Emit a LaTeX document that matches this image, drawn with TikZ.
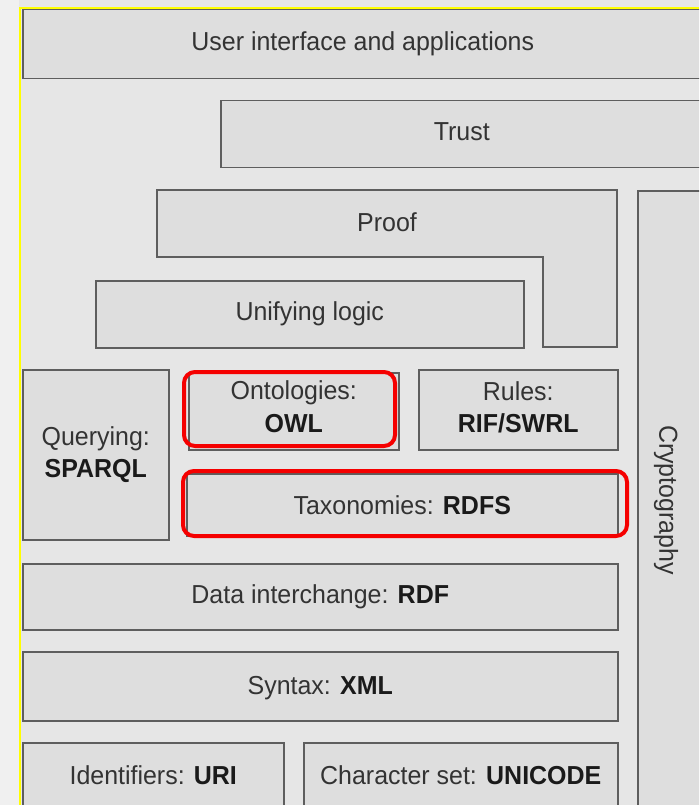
\documentclass[tikz,border=0pt]{standalone}
\usepackage{fontspec}
\setmainfont{Liberation Sans}[FakeStretch=0.96]
\definecolor{bgcol}{HTML}{E6E6E6}
\definecolor{boxfill}{HTML}{DEDEDE}
\definecolor{boxline}{HTML}{5E5E5E}
\definecolor{txt}{HTML}{333333}
\definecolor{boldtxt}{HTML}{1A1A1A}
\definecolor{hlred}{HTML}{F50000}
\definecolor{selyellow}{HTML}{FFFF00}
\newcommand\lblfont{\fontsize{26}{32.5}\selectfont}
\newcommand\kw[1]{\textbf{\color{boldtxt}#1}}
\begin{document}
\begin{tikzpicture}[x=1pt,y=-1pt,
  box/.style={draw=boxline, line width=1.5pt, fill=boxfill, inner sep=0pt,
    anchor=north west, text=txt, align=center, font=\lblfont},
  plainbox/.style={draw=boxline, line width=1.5pt, fill=boxfill},
  hl/.style={draw=hlred, line width=4pt, rounded corners=11pt},
  lbl/.style={text=txt, font=\lblfont, align=center, inner sep=0pt}]
\useasboundingbox (0,0) rectangle (699,805);
\fill[bgcol] (0,0) rectangle (699,805);
\fill[bgcol!60!white] (0,0) rectangle (19,805);
\begin{scope}
\clip (0,0) rectangle (699,805);
% top layers
\node[box, minimum width=680, minimum height=69] (ui) at (22,9) {User interface and applications};
\node[box, minimum width=482, minimum height=67] (trust) at (220,100) {};
\node[lbl, yshift=2.5pt] (trusttext) at (trust.center) {Trust};
\draw[plainbox] (157,190) -- (617,190) -- (617,347) -- (543,347) -- (543,257) -- (157,257) -- cycle;
\node[lbl] (proof) at (387,222) {Proof};
\node[box, minimum width=428, minimum height=67] (logic) at (95,280) {Unifying logic};
\node[box, minimum width=120, minimum height=700] (crypto) at (637,190) {};
\node[lbl, rotate=-90] (cryptotext) at (666,500) {Cryptography};
% middle layers
\node[box, minimum width=146, minimum height=170] (query) at (22,369) {Querying:\\\kw{SPARQL}};
\node[box, minimum width=210, minimum height=77] (onto) at (188,372) {};
\node[lbl, yshift=4.5pt] (ontotext) at (onto.center) {Ontologies:\\\kw{OWL}};
\node[box, minimum width=199, minimum height=80] (rules) at (418,369) {};
\node[lbl, yshift=2.5pt] (rulestext) at (rules.center) {Rules:\\\kw{RIF/SWRL}};
\node[box, minimum width=431, minimum height=62] (tax) at (186,473) {Taxonomies: \kw{RDFS}};
\draw[hl] (184,372) rectangle (395,446);
\draw[hl] (183,471) rectangle (627,536);
% lower layers
\node[box, minimum width=595, minimum height=66] (rdf) at (22,563) {Data interchange: \kw{RDF}};
\node[box, minimum width=595, minimum height=69] (xml) at (22,651) {};
\node[lbl, yshift=-1.5pt] (xmltext) at (xml.center) {Syntax: \kw{XML}};
\node[box, minimum width=261, minimum height=64] (uri) at (22,742) {Identifiers: \kw{URI}};
\node[box, minimum width=314, minimum height=64] (unicode) at (303,742) {Character set: \kw{UNICODE}};
\end{scope}
% selection frame
\draw[color=selyellow, line width=2pt] (20,805) -- (20,8) -- (699,8);
\end{tikzpicture}
\end{document}
